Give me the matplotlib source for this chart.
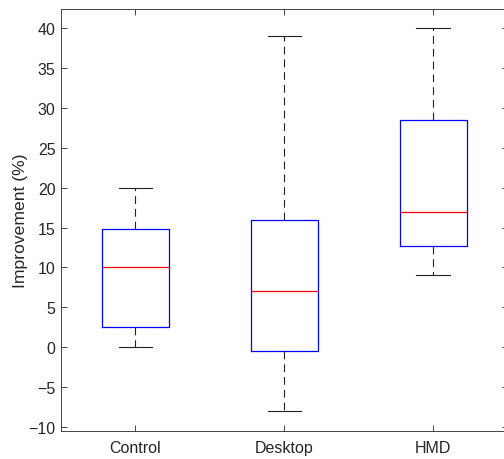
import matplotlib
matplotlib.use("Agg")
import matplotlib.pyplot as plt

# data
groups = ['Control', 'Desktop', 'HMD']
whisker_low = [0, -8, 9]
q1 = [2.5, -0.5, 12.7]
medians = [10, 7, 17]
q3 = [14.8, 16, 28.5]
whisker_high = [20, 39, 40]

plt.rcParams['font.family'] = ['Liberation Sans', 'DejaVu Sans']
plt.rcParams['font.size'] = 11.5

stats = []
for i in range(len(groups)):
    stats.append({'label': groups[i], 'whislo': whisker_low[i], 'q1': q1[i],
                  'med': medians[i], 'q3': q3[i], 'whishi': whisker_high[i],
                  'fliers': []})

fig = plt.figure(figsize=(5.04, 4.6), dpi=100)
ax = fig.add_axes([61 / 504, 1 - 431.6 / 460, (507.5 - 61) / 504, (431.6 - 10) / 460])

ax.bxp(stats, positions=[1, 2, 3], widths=0.45, showfliers=False,
       boxprops=dict(color='#0000ff', linewidth=0.9),
       medianprops=dict(color='#ff0000', linewidth=0.9),
       whiskerprops=dict(color='#222222', linewidth=0.8, linestyle=(0, (7, 4.5))),
       capprops=dict(color='#222222', linewidth=0.8),
       capwidths=0.225)

ax.set_xlim(0.5, 3.5)
ax.set_ylim(-10.45, 42.4)
ax.set_yticks(range(-10, 41, 5))
ax.set_xticks([1, 2, 3])
ax.set_xticklabels(groups)
ax.set_ylabel('Improvement (%)', color='#262626', fontsize=12.6, labelpad=0.5)

ax.tick_params(direction='in', top=True, right=True, length=4, width=0.6,
               colors='#262626', labelsize=11.5, pad=4)
ax.tick_params(axis='x', pad=7)
for s in ax.spines.values():
    s.set_color('#262626')
    s.set_linewidth(0.6)

fig.savefig('out.png', dpi=100)
